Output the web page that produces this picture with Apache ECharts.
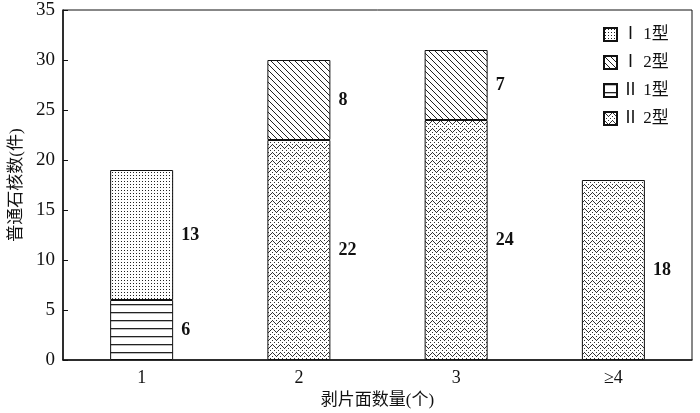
<!DOCTYPE html>
<html>
<head>
<meta charset="utf-8">
<script src="https://cdn.jsdelivr.net/npm/echarts@6/dist/echarts.min.js"></script>
<style>
  html, body { margin: 0; padding: 0; background: #fff; }
  #chart { width: 700px; height: 413px; }
</style>
</head>
<body>
<div id="chart"></div>
<script>
// 剥片面数量 vs 普通石核数
const categories = ['1', '2', '3', '≥4']
const typeI1 = [13, '-', '-', '-']
const typeI2 = ['-', 8, 7, '-']
const typeII1 = [6, '-', '-', '-']
const typeII2 = ['-', 22, 24, 18]
const yTicks = [0, 5, 10, 15, 20, 25, 30, 35]

const serif = "'Liberation Serif', 'Noto Sans CJK SC', serif"

// 用小画布做填充纹理
function makePattern (w, h, draw) {
  const c = document.createElement('canvas')
  c.width = w
  c.height = h
  const ctx = c.getContext('2d')
  ctx.fillStyle = '#fff'
  ctx.fillRect(0, 0, w, h)
  ctx.fillStyle = '#222'
  draw(ctx)
  return { image: c, repeat: 'repeat' }
}

// Ⅰ1型：点
const dotFill = makePattern(3, 3, ctx => {
  ctx.fillRect(1, 1, 1, 1)
})
// Ⅰ2型：斜点线
const slashFill = makePattern(6, 6, ctx => {
  for (let i = 0; i < 6; i += 1) ctx.fillRect(i, i, 1, 1)
})
// Ⅱ1型：横线
const lineFill = makePattern(4, 8, ctx => {
  ctx.fillRect(0, 0, 4, 1.3)
})
// Ⅱ2型：人字纹（点状）
const zigFill = makePattern(8, 8, ctx => {
  ctx.fillStyle = '#333'
  for (let x = 0; x < 8; x++) {
    const y = x < 4 ? x : 8 - x
    ctx.fillRect(x, y % 8, 1, 1)
    if (x % 2 === 0) ctx.fillRect(x, (y + 4) % 8, 1, 1)
  }
})

const chart = echarts.init(document.getElementById('chart'))

function barSeries (name, data, fill) {
  return {
    name: name,
    type: 'bar',
    stack: 'total',
    data: data,
    barWidth: 63,
    itemStyle: { color: fill, borderColor: '#111', borderWidth: 1 },
    label: {
      show: true,
      position: 'right',
      distance: 8,
      color: '#111',
      fontFamily: serif,
      fontSize: 18,
      fontWeight: 'bold'
    }
  }
}

const option = {
  animation: false,
  backgroundColor: '#fff',
  grid: {
    left: 63, right: 8, top: 10, bottom: 53,
    outerBoundsMode: 'none',
    containLabel: false,
    show: true, borderColor: '#111', borderWidth: 1
  },
  legend: {
    data: ['Ⅰ 1型', 'Ⅰ 2型', 'Ⅱ 1型', 'Ⅱ 2型'],
    orient: 'vertical',
    left: 598,
    top: 21,
    icon: 'rect',
    itemWidth: 13,
    itemHeight: 13,
    itemGap: 11,
    textStyle: { fontFamily: serif, fontSize: 17, color: '#111' }
  },
  xAxis: {
    type: 'category',
    data: categories,
    name: '剥片面数量(个)',
    nameLocation: 'middle',
    nameGap: 27,
    nameTextStyle: { fontFamily: serif, fontSize: 17, color: '#111' },
    axisLine: { lineStyle: { color: '#111', width: 1.5 } },
    axisTick: { inside: true, length: 5, lineStyle: { color: '#111' } },
    axisLabel: { fontFamily: serif, fontSize: 18, color: '#111', margin: 9 }
  },
  yAxis: {
    type: 'value',
    min: yTicks[0],
    max: yTicks[yTicks.length - 1],
    interval: 5,
    name: '普通石核数(件)',
    nameLocation: 'middle',
    nameGap: 35,
    nameTextStyle: { fontFamily: serif, fontSize: 17, color: '#111' },
    splitLine: { show: false },
    axisLine: { show: true, lineStyle: { color: '#111', width: 1.5 } },
    axisTick: { show: true, inside: true, length: 5, lineStyle: { color: '#111' } },
    axisLabel: { fontFamily: serif, fontSize: 19, color: '#111', margin: 8 }
  },
  series: [
    barSeries('Ⅱ 1型', typeII1, lineFill),
    barSeries('Ⅱ 2型', typeII2, zigFill),
    barSeries('Ⅰ 1型', typeI1, dotFill),
    barSeries('Ⅰ 2型', typeI2, slashFill)
  ]
}

chart.setOption(option)
</script>
</body>
</html>
